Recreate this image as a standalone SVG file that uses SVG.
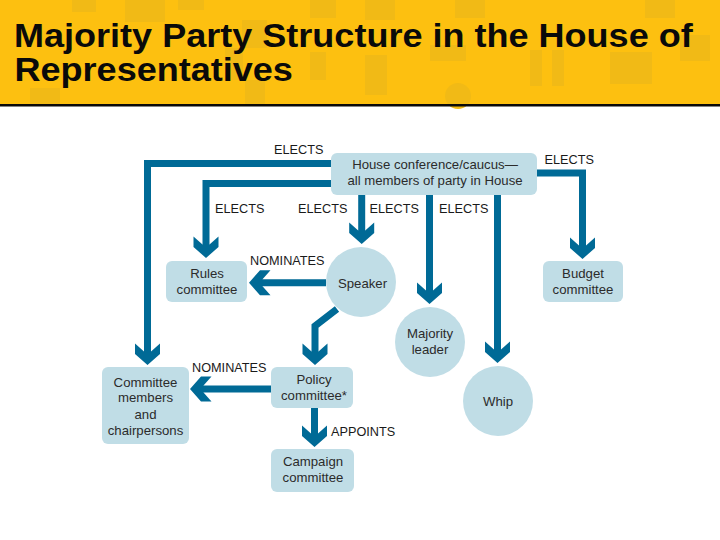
<svg xmlns="http://www.w3.org/2000/svg" width="720" height="540" viewBox="0 0 720 540">
<defs>
<style>
.t{font-family:"Liberation Sans",Arial,sans-serif;font-size:13.2px;fill:#2b2b2b;text-anchor:middle}
.l{font-family:"Liberation Sans",Arial,sans-serif;font-size:12.7px;fill:#1a1a1a}
.b{fill:#c0dde6}
.c{fill:none;stroke:#006a96;stroke-width:7}
.h{fill:#006a96}
.i{fill:#f1ba16}
.title{font-family:"Liberation Sans",Arial,sans-serif;font-size:33.5px;font-weight:bold;fill:#0a0a0a}
</style>
<polygon id="ah" points="-12.500,-21.500 -3.500,-13.500 3.500,-13.500 12.500,-21.500 12.500,-11 0,0 -12.500,-11"/>
</defs>
<rect width="720" height="540" fill="#fff"/>
<g id="header">
<rect width="720" height="104" fill="#fdc010"/>
<g class="i">
<rect x="72" y="0" width="24" height="12"/><rect x="125" y="0" width="40" height="22"/>
<rect x="242" y="20" width="25" height="28"/><rect x="225" y="48" width="18" height="32"/>
<rect x="178" y="0" width="26" height="10"/><rect x="310" y="52" width="16" height="28"/>
<rect x="365" y="0" width="30" height="20"/><rect x="430" y="45" width="36" height="16"/>
<rect x="455" y="0" width="30" height="18"/><circle cx="458" cy="96" r="13"/>
<rect x="310" y="0" width="26" height="18"/><rect x="365" y="55" width="22" height="40"/>
<rect x="530" y="50" width="12" height="36"/><rect x="552" y="50" width="12" height="36"/>
<rect x="610" y="52" width="42" height="32"/><rect x="645" y="0" width="30" height="18"/>
<rect x="680" y="35" width="30" height="26"/><rect x="245" y="80" width="20" height="24"/>
<rect x="30" y="88" width="30" height="16"/>
</g>
<rect y="104" width="720" height="2.500" fill="#0a0a0a"/>
<text class="title" transform="translate(14 47) scale(1.076 1)"><tspan x="0" y="0">Majority Party Structure in the House of</tspan><tspan x="0.500" y="34">Representatives</tspan></text>
</g>
<g id="connectors">
<path class="c" d="M331 163.500H147.500V355"/>
<path class="c" d="M331 183.500H206V248"/>
<path class="c" d="M361.700 195V234"/>
<path class="c" d="M429.500 195V294"/>
<path class="c" d="M497.500 195V353"/>
<path class="c" d="M537 173H582.500V249"/>
<path class="c" d="M326 282.700H259"/>
<path class="c" d="M337 309L315 326V355"/>
<path class="c" d="M271 389H200"/>
<path class="c" d="M314.500 408V437"/>
<g class="h">
<use href="#ah" transform="translate(147.500 365)"/>
<use href="#ah" transform="translate(206 258)"/>
<use href="#ah" transform="translate(361.700 244)"/>
<use href="#ah" transform="translate(429.500 304)"/>
<use href="#ah" transform="translate(497.500 363)"/>
<use href="#ah" transform="translate(582.500 259)"/>
<use href="#ah" transform="translate(249 282.700) rotate(90)"/>
<use href="#ah" transform="translate(315 365)"/>
<use href="#ah" transform="translate(190 389) rotate(90)"/>
<use href="#ah" transform="translate(314.500 447)"/>
</g>
</g>
<g id="connector-labels">
<text class="l" x="274" y="154">ELECTS</text>
<text class="l" x="215" y="213">ELECTS</text>
<text class="l" x="298" y="213">ELECTS</text>
<text class="l" x="369.500" y="213">ELECTS</text>
<text class="l" x="439" y="213">ELECTS</text>
<text class="l" x="544.500" y="164">ELECTS</text>
<text class="l" x="250" y="265">NOMINATES</text>
<text class="l" x="192" y="372">NOMINATES</text>
<text class="l" x="331" y="436">APPOINTS</text>
</g>
<g id="conference"><rect class="b" x="331" y="153" width="206" height="42" rx="6"/>
<text class="t" x="435" y="169">House conference/caucus—</text><text class="t" x="435" y="185">all members of party in House</text></g>
<g id="rules"><rect class="b" x="166" y="261" width="81" height="41" rx="6"/>
<text class="t" x="207" y="278">Rules</text><text class="t" x="207" y="294">committee</text></g>
<g id="speaker"><circle class="b" cx="361" cy="282" r="35"/>
<text class="t" x="362.500" y="288">Speaker</text></g>
<g id="budget"><rect class="b" x="543" y="261" width="80" height="41" rx="6"/>
<text class="t" x="583" y="278">Budget</text><text class="t" x="583" y="294">committee</text></g>
<g id="majority-leader"><circle class="b" cx="430" cy="342" r="35"/>
<text class="t" x="430" y="338">Majority</text><text class="t" x="430" y="354">leader</text></g>
<g id="whip"><circle class="b" cx="498" cy="401" r="35"/>
<text class="t" x="498" y="406">Whip</text></g>
<g id="policy"><rect class="b" x="271" y="367" width="82" height="41" rx="6"/>
<text class="t" x="314" y="384">Policy</text><text class="t" x="314" y="400">committee*</text></g>
<g id="committee-members"><rect class="b" x="102" y="367" width="87" height="77" rx="6"/>
<text class="t" x="145.500" y="387">Committee</text><text class="t" x="145.500" y="402">members</text><text class="t" x="145.500" y="419">and</text><text class="t" x="145.500" y="435">chairpersons</text></g>
<g id="campaign"><rect class="b" x="271" y="449" width="83" height="43" rx="6"/>
<text class="t" x="313" y="466">Campaign</text><text class="t" x="313" y="482">committee</text></g>
</svg>
